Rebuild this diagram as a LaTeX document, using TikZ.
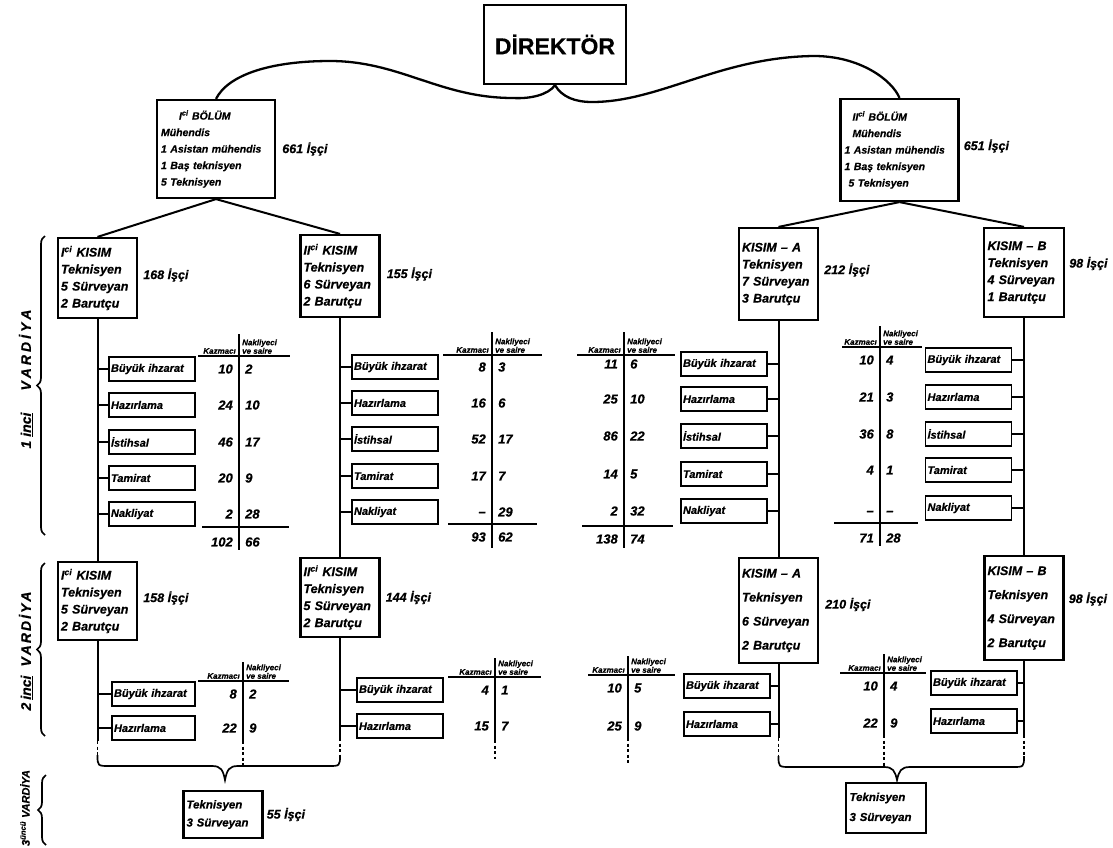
\documentclass[tikz,border=0pt]{standalone}
\usepackage{fontspec}
\setmainfont{Liberation Sans}[BoldItalicFeatures={FakeBold=0.6}, BoldFeatures={FakeBold=0.4}]
\usepackage{tikz}
\usetikzlibrary{positioning, calc, decorations.pathreplacing}

\begin{document}
\begin{tikzpicture}[
  x=1pt, y=-1pt,
  dirnode/.style={rectangle, draw, line width=2.4pt, minimum width=142pt, minimum height=79pt, font=\fontsize{23}{26}\selectfont\bfseries},
  bolumnode/.style={rectangle, draw, line width=2.2pt, minimum width=118pt, minimum height=98pt, text width=110pt, inner sep=4pt, align=left, font=\fontsize{10.5}{16.5}\selectfont\bfseries\itshape},
  kisimnode/.style={rectangle, draw, line width=2.2pt, minimum width=79pt, minimum height=80pt, text width=73pt, inner sep=3pt, align=left, font=\fontsize{12.5}{17}\selectfont\bfseries\itshape},
  worknode/.style={rectangle, draw, line width=1.9pt, minimum width=86pt, minimum height=24pt, text width=82pt, inner sep=2pt, align=left, font=\fontsize{11}{12}\selectfont\bfseries\itshape},
  numtext/.style={inner sep=0pt, font=\fontsize{13}{14}\selectfont\bfseries\itshape},
  headtext/.style={inner sep=1pt, align=left, font=\fontsize{8}{8.5}\selectfont\bfseries\itshape},
  iscitext/.style={inner sep=0pt, font=\fontsize{12.5}{14}\selectfont\bfseries\itshape},
  vardtext/.style={rotate=90, inner sep=0pt, font=\fontsize{14}{16}\selectfont\bfseries\itshape},
  orgline/.style={line width=2pt},
  tableline/.style={line width=1.7pt},
  dashline/.style={line width=1.7pt, dash pattern=on 3pt off 2.5pt},
  shiftbrace/.style={line width=1.7pt, decorate, decoration={brace, amplitude=8pt}}
]
\useasboundingbox (0,0) rectangle (1113,847);

% Director and departments
\node[dirnode] (dir_node) at (555,44.5) {DİREKTÖR};
\node[bolumnode] (bolum_I) at (216,149) {\hspace*{18pt}I\textsuperscript{ci} BÖLÜM\\Mühendis\\1 Asistan mühendis\\1 Baş teknisyen\\5 Teknisyen};
\node[bolumnode, minimum height=102pt] (bolum_II) at (899.5,150) {\hspace*{8pt}II\textsuperscript{ci} BÖLÜM\\\hspace*{8pt}Mühendis\\1 Asistan mühendis\\1 Baş teknisyen\\\hspace*{4pt}5 Teknisyen};
\node[iscitext, right=6pt of bolum_I] (isci_bI) {661 İşçi};
\node[iscitext, right=4pt of bolum_II, yshift=4pt] (isci_bII) {651 İşçi};

\coordinate (dip_L) at (513,98);
\coordinate (peak_L) at (330,61);
\coordinate (dip_R) at (592,102);
\coordinate (peak_R) at (814,56);
\draw[orgline, line width=2.3pt] (dir_node.south) .. controls (548,95) and (530,99) .. (dip_L) .. controls (440,98) and (400,61) .. (peak_L) .. controls (270,61) and (228,75) .. (bolum_I.north);
\draw[orgline, line width=2.3pt] (dir_node.south) .. controls (562,97) and (575,102) .. (dip_R) .. controls (660,102) and (720,57) .. (peak_R) .. controls (860,56) and (892,80) .. (bolum_II.north);

% 1. vardiya kisimlar
\node[kisimnode] (kisim_I_1) at (97.5,278) {I\textsuperscript{ci} KISIM\\Teknisyen\\5 Sürveyan\\2 Barutçu};
\node[kisimnode, minimum width=78pt, minimum height=82pt] (kisim_II_1) at (340,276) {II\textsuperscript{ci} KISIM\\Teknisyen\\6 Sürveyan\\2 Barutçu};
\node[kisimnode, minimum height=92pt] (kisim_A_1) at (778.5,274) {KISIM -- A\\Teknisyen\\7 Sürveyan\\3 Barutçu};
\node[kisimnode, minimum width=80pt, minimum height=89pt] (kisim_B_1) at (1024,272.5) {KISIM -- B\\Teknisyen\\4 Sürveyan\\1 Barutçu};
\node[iscitext, right=5pt of kisim_I_1, yshift=3pt] (isci_I1) {168 İşçi};
\node[iscitext, right=6pt of kisim_II_1, yshift=2pt] (isci_II1) {155 İşçi};
\node[iscitext, right=5pt of kisim_A_1, yshift=4pt] (isci_A1) {212 İşçi};
\node[iscitext, right=4pt of kisim_B_1, yshift=9pt] (isci_B1) {98 İşçi};

\draw[orgline] (bolum_I.south) -- (kisim_I_1.north);
\draw[orgline] (bolum_I.south) -- (kisim_II_1.north);
\draw[orgline] (bolum_II.south) -- (kisim_A_1.north);
\draw[orgline] (bolum_II.south) -- (kisim_B_1.north);

% 2. vardiya kisimlar
\node[kisimnode, minimum width=77pt, minimum height=78pt] (kisim_I_2) at (97.5,601) {I\textsuperscript{ci} KISIM\\Teknisyen\\5 Sürveyan\\2 Barutçu};
\node[kisimnode, minimum width=78pt, minimum height=79pt] (kisim_II_2) at (340,597.5) {II\textsuperscript{ci} KISIM\\Teknisyen\\5 Sürveyan\\2 Barutçu};
\node[kisimnode, minimum width=76pt, minimum height=105pt, font=\fontsize{12.5}{24}\selectfont\bfseries\itshape] (kisim_A_2) at (778.5,610.5) {KISIM -- A\\Teknisyen\\6 Sürveyan\\2 Barutçu};
\node[kisimnode, minimum width=78pt, minimum height=104pt, font=\fontsize{12.5}{24}\selectfont\bfseries\itshape] (kisim_B_2) at (1024,608) {KISIM -- B\\Teknisyen\\4 Sürveyan\\2 Barutçu};
\node[iscitext, right=5pt of kisim_I_2, yshift=3pt] (isci_I2) {158 İşçi};
\node[iscitext, right=5pt of kisim_II_2] (isci_II2) {144 İşçi};
\node[iscitext, right=6pt of kisim_A_2, yshift=6pt] (isci_A2) {210 İşçi};
\node[iscitext, right=4pt of kisim_B_2, yshift=9pt] (isci_B2) {98 İşçi};

\draw[orgline] (kisim_I_1.south) -- (kisim_I_2.north);
\draw[orgline] (kisim_II_1.south) -- (kisim_II_2.north);
\draw[orgline] (kisim_A_1.south) -- (kisim_A_2.north);
\draw[orgline] (kisim_B_1.south) -- (kisim_B_2.north);

% 1. vardiya isler
\node[worknode] (buy_I1) at (152,369) {Büyük ihzarat};
\node[worknode] (haz_I1) at (152,405) {Hazırlama};
\node[worknode] (ist_I1) at (152,442) {İstihsal};
\node[worknode] (tam_I1) at (152,478) {Tamirat};
\node[worknode] (nak_I1) at (152,514) {Nakliyat};
\node[worknode] (buy_II1) at (395,367) {Büyük ihzarat};
\node[worknode] (haz_II1) at (395,403) {Hazırlama};
\node[worknode] (ist_II1) at (395,439) {İstihsal};
\node[worknode] (tam_II1) at (395,476) {Tamirat};
\node[worknode] (nak_II1) at (395,512) {Nakliyat};
\node[worknode] (buy_A1) at (724,364) {Büyük ihzarat};
\node[worknode] (haz_A1) at (724,399) {Hazırlama};
\node[worknode] (ist_A1) at (724,436) {İstihsal};
\node[worknode] (tam_A1) at (724,474) {Tamirat};
\node[worknode] (nak_A1) at (724,511) {Nakliyat};
\node[worknode] (buy_B1) at (968.5,360) {Büyük ihzarat};
\node[worknode] (haz_B1) at (968.5,397) {Hazırlama};
\node[worknode] (ist_B1) at (968.5,434) {İstihsal};
\node[worknode] (tam_B1) at (968.5,470) {Tamirat};
\node[worknode] (nak_B1) at (968.5,508) {Nakliyat};

\draw[orgline] (kisim_I_1.south |- buy_I1.west) -- (buy_I1.west);
\draw[orgline] (kisim_I_1.south |- haz_I1.west) -- (haz_I1.west);
\draw[orgline] (kisim_I_1.south |- ist_I1.west) -- (ist_I1.west);
\draw[orgline] (kisim_I_1.south |- tam_I1.west) -- (tam_I1.west);
\draw[orgline] (kisim_I_1.south |- nak_I1.west) -- (nak_I1.west);
\draw[orgline] (kisim_II_1.south |- buy_II1.west) -- (buy_II1.west);
\draw[orgline] (kisim_II_1.south |- haz_II1.west) -- (haz_II1.west);
\draw[orgline] (kisim_II_1.south |- ist_II1.west) -- (ist_II1.west);
\draw[orgline] (kisim_II_1.south |- tam_II1.west) -- (tam_II1.west);
\draw[orgline] (kisim_II_1.south |- nak_II1.west) -- (nak_II1.west);
\draw[orgline] (buy_A1.east) -- (kisim_A_1.south |- buy_A1.east);
\draw[orgline] (haz_A1.east) -- (kisim_A_1.south |- haz_A1.east);
\draw[orgline] (ist_A1.east) -- (kisim_A_1.south |- ist_A1.east);
\draw[orgline] (tam_A1.east) -- (kisim_A_1.south |- tam_A1.east);
\draw[orgline] (nak_A1.east) -- (kisim_A_1.south |- nak_A1.east);
\draw[orgline] (buy_B1.east) -- (kisim_B_1.south |- buy_B1.east);
\draw[orgline] (haz_B1.east) -- (kisim_B_1.south |- haz_B1.east);
\draw[orgline] (ist_B1.east) -- (kisim_B_1.south |- ist_B1.east);
\draw[orgline] (tam_B1.east) -- (kisim_B_1.south |- tam_B1.east);
\draw[orgline] (nak_B1.east) -- (kisim_B_1.south |- nak_B1.east);

% 1. vardiya tablolar
\draw[tableline] (239,334) -- (239,550);
\draw[tableline] (198,356) -- (290,356);
\draw[tableline] (202,527) -- (289,527);
\node[headtext, anchor=south east] (hk_I1) at (237,355) {Kazmacı};
\node[headtext, anchor=south west] (hn_I1) at (241,355) {Nakliyeci\\ve saire};
\node[numtext, anchor=east] (kaz_I1_1) at (233,369) {10}; \node[numtext, anchor=west] (nak_I1_1) at (245,369) {2};
\node[numtext, anchor=east] (kaz_I1_2) at (233,405) {24}; \node[numtext, anchor=west] (nak_I1_2) at (245,405) {10};
\node[numtext, anchor=east] (kaz_I1_3) at (233,442) {46}; \node[numtext, anchor=west] (nak_I1_3) at (245,442) {17};
\node[numtext, anchor=east] (kaz_I1_4) at (233,478) {20}; \node[numtext, anchor=west] (nak_I1_4) at (245,478) {9};
\node[numtext, anchor=east] (kaz_I1_5) at (233,514) {2}; \node[numtext, anchor=west] (nak_I1_5) at (245,514) {28};
\node[numtext, anchor=east] (kaz_I1_t) at (233,542) {102}; \node[numtext, anchor=west] (nak_I1_t) at (245,542) {66};

\draw[tableline] (492,332) -- (492,548);
\draw[tableline] (443,355) -- (542,355);
\draw[tableline] (448,524) -- (537,524);
\node[headtext, anchor=south east] (hk_II1) at (490,354) {Kazmacı};
\node[headtext, anchor=south west] (hn_II1) at (494,354) {Nakliyeci\\ve saire};
\node[numtext, anchor=east] (kaz_II1_1) at (486,367) {8}; \node[numtext, anchor=west] (nak_II1_1) at (498,367) {3};
\node[numtext, anchor=east] (kaz_II1_2) at (486,403) {16}; \node[numtext, anchor=west] (nak_II1_2) at (498,403) {6};
\node[numtext, anchor=east] (kaz_II1_3) at (486,439) {52}; \node[numtext, anchor=west] (nak_II1_3) at (498,439) {17};
\node[numtext, anchor=east] (kaz_II1_4) at (486,476) {17}; \node[numtext, anchor=west] (nak_II1_4) at (498,476) {7};
\node[numtext, anchor=east] (kaz_II1_5) at (486,514) {--}; \node[numtext, anchor=west] (nak_II1_5) at (498,512) {29};
\node[numtext, anchor=east] (kaz_II1_t) at (486,537) {93}; \node[numtext, anchor=west] (nak_II1_t) at (498,537) {62};

\draw[tableline] (624,332) -- (624,548);
\draw[tableline] (577,355) -- (675,355);
\draw[tableline] (582,526) -- (673,526);
\node[headtext, anchor=south east] (hk_A1) at (622,354) {Kazmacı};
\node[headtext, anchor=south west] (hn_A1) at (626,354) {Nakliyeci\\ve saire};
\node[numtext, anchor=east] (kaz_A1_1) at (618,364) {11}; \node[numtext, anchor=west] (nak_A1_1) at (630,364) {6};
\node[numtext, anchor=east] (kaz_A1_2) at (618,399) {25}; \node[numtext, anchor=west] (nak_A1_2) at (630,399) {10};
\node[numtext, anchor=east] (kaz_A1_3) at (618,436) {86}; \node[numtext, anchor=west] (nak_A1_3) at (630,436) {22};
\node[numtext, anchor=east] (kaz_A1_4) at (618,474) {14}; \node[numtext, anchor=west] (nak_A1_4) at (630,474) {5};
\node[numtext, anchor=east] (kaz_A1_5) at (618,511) {2}; \node[numtext, anchor=west] (nak_A1_5) at (630,511) {32};
\node[numtext, anchor=east] (kaz_A1_t) at (618,539) {138}; \node[numtext, anchor=west] (nak_A1_t) at (630,539) {74};

\draw[tableline] (880,326) -- (880,546);
\draw[tableline] (842,347) -- (922,347);
\draw[tableline] (834,523) -- (918,523);
\node[headtext, anchor=south east] (hk_B1) at (878,346) {Kazmacı};
\node[headtext, anchor=south west] (hn_B1) at (882,346) {Nakliyeci\\ve saire};
\node[numtext, anchor=east] (kaz_B1_1) at (874,360) {10}; \node[numtext, anchor=west] (nak_B1_1) at (886,360) {4};
\node[numtext, anchor=east] (kaz_B1_2) at (874,397) {21}; \node[numtext, anchor=west] (nak_B1_2) at (886,397) {3};
\node[numtext, anchor=east] (kaz_B1_3) at (874,434) {36}; \node[numtext, anchor=west] (nak_B1_3) at (886,434) {8};
\node[numtext, anchor=east] (kaz_B1_4) at (874,470) {4}; \node[numtext, anchor=west] (nak_B1_4) at (886,470) {1};
\node[numtext, anchor=east] (kaz_B1_5) at (874,513) {--}; \node[numtext, anchor=west] (nak_B1_5) at (886,513) {--};
\node[numtext, anchor=east] (kaz_B1_t) at (874,538) {71}; \node[numtext, anchor=west] (nak_B1_t) at (886,538) {28};

% 2. vardiya isler
\node[worknode, minimum width=83pt, text width=79pt] (buy_I2) at (153.5,694) {Büyük ihzarat};
\node[worknode, minimum width=83pt, text width=79pt] (haz_I2) at (153.5,728) {Hazırlama};
\node[worknode] (buy_II2) at (400,690) {Büyük ihzarat};
\node[worknode] (haz_II2) at (400,726) {Hazırlama};
\node[worknode] (buy_A2) at (727,686) {Büyük ihzarat};
\node[worknode] (haz_A2) at (727,724) {Hazırlama};
\node[worknode] (buy_B2) at (974,683) {Büyük ihzarat};
\node[worknode] (haz_B2) at (974,721) {Hazırlama};

\draw[orgline] (kisim_I_2.south |- buy_I2.west) -- (buy_I2.west);
\draw[orgline] (kisim_I_2.south |- haz_I2.west) -- (haz_I2.west);
\draw[orgline] (kisim_II_2.south |- buy_II2.west) -- (buy_II2.west);
\draw[orgline] (kisim_II_2.south |- haz_II2.west) -- (haz_II2.west);
\draw[orgline] (buy_A2.east) -- (kisim_A_2.south |- buy_A2.east);
\draw[orgline] (haz_A2.east) -- (kisim_A_2.south |- haz_A2.east);
\draw[orgline] (buy_B2.east) -- (kisim_B_2.south |- buy_B2.east);
\draw[orgline] (haz_B2.east) -- (kisim_B_2.south |- haz_B2.east);

% 2. vardiya tablolar
\draw[tableline] (243,662) -- (243,741);
\draw[dashline] (243,741) -- (243,766);
\draw[tableline] (198,681) -- (289,681);
\node[headtext, anchor=south east] (hk_I2) at (241,680) {Kazmacı};
\node[headtext, anchor=south west] (hn_I2) at (245,680) {Nakliyeci\\ve saire};
\node[numtext, anchor=east] (kaz_I2_1) at (237,694) {8}; \node[numtext, anchor=west] (nak_I2_1) at (249,694) {2};
\node[numtext, anchor=east] (kaz_I2_2) at (237,728) {22}; \node[numtext, anchor=west] (nak_I2_2) at (249,728) {9};

\draw[tableline] (495,658) -- (495,740);
\draw[dashline] (495,740) -- (495,759);
\draw[tableline] (448,677) -- (541,677);
\node[headtext, anchor=south east] (hk_II2) at (493,676) {Kazmacı};
\node[headtext, anchor=south west] (hn_II2) at (497,676) {Nakliyeci\\ve saire};
\node[numtext, anchor=east] (kaz_II2_1) at (489,690) {4}; \node[numtext, anchor=west] (nak_II2_1) at (501,690) {1};
\node[numtext, anchor=east] (kaz_II2_2) at (489,726) {15}; \node[numtext, anchor=west] (nak_II2_2) at (501,726) {7};

\draw[tableline] (628,656) -- (628,738);
\draw[dashline] (628,738) -- (628,763);
\draw[tableline] (588,675) -- (675,675);
\node[headtext, anchor=south east] (hk_A2) at (626,674) {Kazmacı};
\node[headtext, anchor=south west] (hn_A2) at (630,674) {Nakliyeci\\ve saire};
\node[numtext, anchor=east] (kaz_A2_1) at (622,688) {10}; \node[numtext, anchor=west] (nak_A2_1) at (634,688) {5};
\node[numtext, anchor=east] (kaz_A2_2) at (622,726) {25}; \node[numtext, anchor=west] (nak_A2_2) at (634,726) {9};

\draw[tableline] (884,654) -- (884,735);
\draw[dashline] (884,735) -- (884,767);
\draw[tableline] (840,673) -- (926,673);
\node[headtext, anchor=south east] (hk_B2) at (882,672) {Kazmacı};
\node[headtext, anchor=south west] (hn_B2) at (886,672) {Nakliyeci\\ve saire};
\node[numtext, anchor=east] (kaz_B2_1) at (878,686) {10}; \node[numtext, anchor=west] (nak_B2_1) at (890,686) {4};
\node[numtext, anchor=east] (kaz_B2_2) at (878,723) {22}; \node[numtext, anchor=west] (nak_B2_2) at (890,723) {9};

% 3. vardiya
\coordinate (end_I) at (97.5,741);
\coordinate (end_II) at (340,738);
\coordinate (end_A) at (778.5,738);
\coordinate (end_B) at (1024,735);
\coordinate (brc_I) at (97.5,755);
\coordinate (brc_II) at (340,755);
\coordinate (brc_A) at (778.5,756);
\coordinate (brc_B) at (1024,756);
\coordinate (tip_L) at (225,780);
\coordinate (tip_R) at (897,780);

\draw[orgline] (kisim_I_2.south) -- (end_I);
\draw[orgline] (kisim_II_2.south) -- (end_II);
\draw[orgline] (kisim_A_2.south) -- (end_A);
\draw[orgline] (kisim_B_2.south) -- (end_B);
\draw[dashline] (end_I) -- (brc_I);
\draw[dashline] (end_II) -- (brc_II);
\draw[dashline] (end_A) -- (brc_A);
\draw[dashline] (end_B) -- (brc_B);
\draw[tableline] (brc_I) .. controls (97.5,766) and (97.5,766) .. (110,766) -- (212,766) .. controls (221,766) and (223,770) .. (tip_L) .. controls (227,770) and (229,766) .. (238,766) -- (328,766) .. controls (340,766) and (340,766) .. (brc_II);
\draw[tableline] (brc_A) .. controls (778.5,767) and (778.5,767) .. (791,767) -- (884,767) .. controls (893,767) and (895,771) .. (tip_R) .. controls (899,771) and (901,767) .. (910,767) -- (1012,767) .. controls (1024,767) and (1024,767) .. (brc_B);

\node[kisimnode, minimum width=78pt, minimum height=47pt, font=\fontsize{11.5}{18}\selectfont\bfseries\itshape] (vard3_L) at (223,814.5) {Teknisyen\\3 Sürveyan};
\node[kisimnode, minimum width=80pt, minimum height=50pt, font=\fontsize{11.5}{20}\selectfont\bfseries\itshape] (vard3_R) at (886,808) {Teknisyen\\3 Sürveyan};
\node[iscitext, right=3pt of vard3_L] (isci_3L) {55 İşçi};

% Vardiya braces
\draw[shiftbrace] (45,535) -- (45,236);
\draw[shiftbrace] (45,736) -- (45,563);
\draw[shiftbrace] (46,845) -- (46,775);
\node[vardtext] (vard_1) at (26,379) {1\hspace{4pt}\underline{inci}\hspace{22pt}V\hspace{3pt}A\hspace{3pt}R\hspace{3pt}D\hspace{3pt}İ\hspace{3pt}Y\hspace{3pt}A};
\node[vardtext] (vard_2) at (26,651) {2\hspace{3pt}\underline{inci}\hspace{9pt}V\hspace{2pt}A\hspace{2pt}R\hspace{2pt}D\hspace{2pt}İ\hspace{2pt}Y\hspace{2pt}A};
\node[vardtext, font=\fontsize{11}{12}\selectfont\bfseries\itshape] (vard_3) at (25,808) {3\textsuperscript{üncü} VARDİYA};

\end{tikzpicture}
\end{document}
